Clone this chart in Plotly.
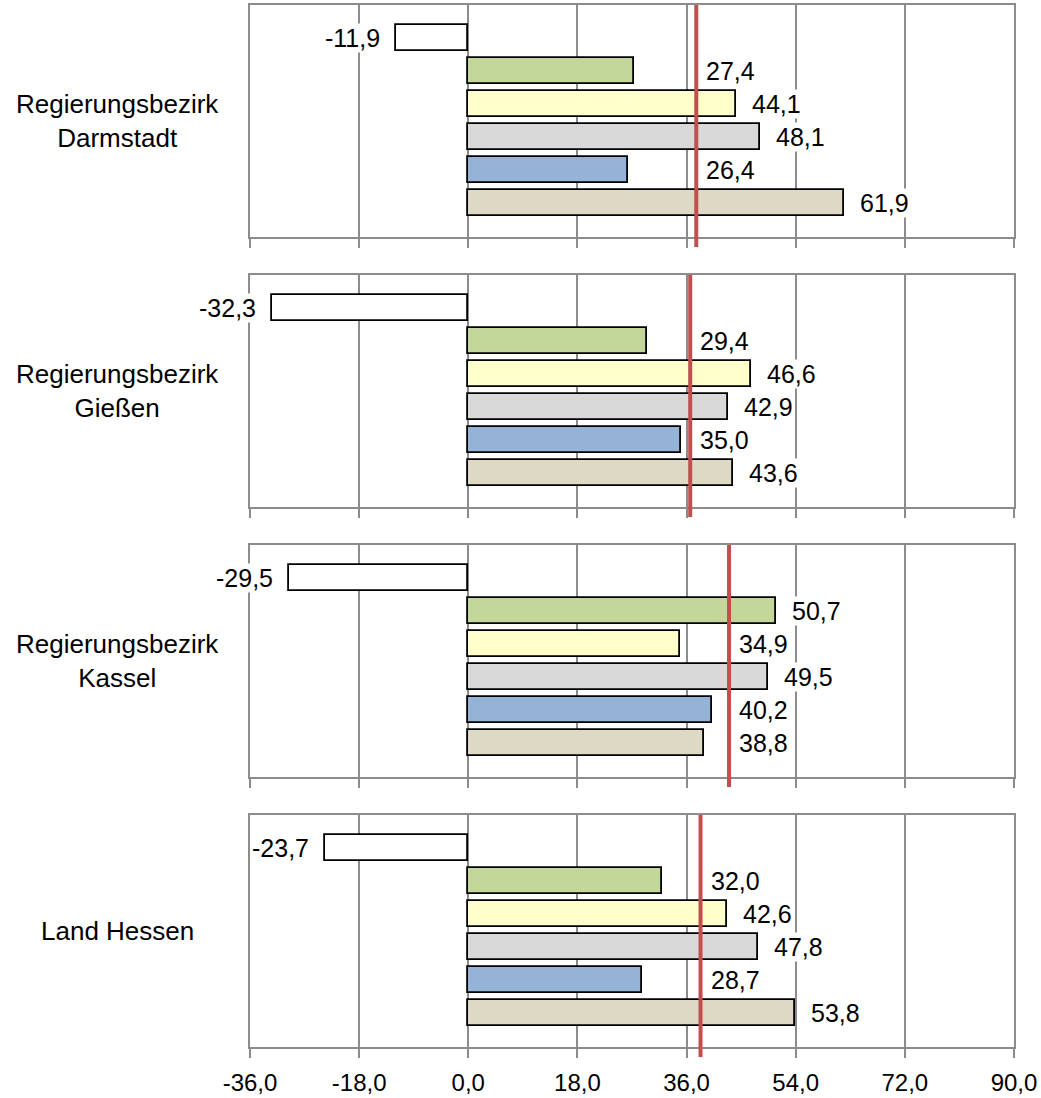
import plotly.graph_objects as go
from plotly.subplots import make_subplots

# ---- data ----
regions = ["Regierungsbezirk<br>Darmstadt", "Regierungsbezirk<br>Gießen",
           "Regierungsbezirk<br>Kassel", "Land Hessen"]
darmstadt = [-11.9, 27.4, 44.1, 48.1, 26.4, 61.9]
giessen = [-32.3, 29.4, 46.6, 42.9, 35.0, 43.6]
kassel = [-29.5, 50.7, 34.9, 49.5, 40.2, 38.8]
hessen = [-23.7, 32.0, 42.6, 47.8, 28.7, 53.8]
reference_values = [37.6, 36.6, 43.0, 38.3]   # red vertical lines
bar_colors = ["#FFFFFF", "#C4D79B", "#FFFFCC", "#D9D9D9", "#95B3D7", "#DDD9C4"]
x_ticks = [-36, -18, 0, 18, 36, 54, 72, 90]
x_ticktext = [f"{t:.1f}".replace(".", ",") for t in x_ticks]

panels = [darmstadt, giessen, kassel, hessen]

W, H = 1041, 1098
ML, MR, MT, MB = 250, 27, 5, 51
plot_w = W - ML - MR
plot_h = H - MT - MB
px_per_unit = plot_w / (x_ticks[-1] - x_ticks[0])

# panel pixel extents (top, bottom) measured from figure top
panel_px = [(5, 237), (275, 507), (545, 777), (815, 1047)]

fig = make_subplots(rows=4, cols=1)

GRID = "#8C8C8C"
FONT = "Liberation Sans, Arial, sans-serif"

annotations = []
shapes = []
for i, vals in enumerate(panels):
    r = i + 1
    n = len(vals)
    ypos = list(range(n))
    fig.add_trace(go.Bar(
        x=vals, y=ypos, orientation="h", width=0.79,
        marker=dict(color=bar_colors, line=dict(color="#000000", width=1.8)),
        showlegend=False, hoverinfo="skip"), row=r, col=1)

    top, bot = panel_px[i]
    d0 = (H - MB - bot) / plot_h
    d1 = (H - MB - top) / plot_h
    ya = "yaxis" if r == 1 else f"yaxis{r}"
    fig.layout[ya].domain = [d0, d1]
    slots = (bot - top) / 33.0
    fig.update_yaxes(range=[slots - 1, -1], showticklabels=False, showgrid=False,
                     zeroline=False, showline=True, linecolor=GRID, linewidth=2,
                     mirror=True, ticks="", automargin=False, row=r, col=1)
    fig.update_xaxes(range=[x_ticks[0], x_ticks[-1]], tickvals=x_ticks,
                     ticktext=x_ticktext, showgrid=True, gridcolor=GRID, gridwidth=1.5,
                     zeroline=False, showline=True, linecolor=GRID, linewidth=2,
                     mirror=True, ticks="outside", ticklen=9, tickcolor=GRID,
                     tickwidth=2, showticklabels=(r == 4), ticklabelstandoff=4,
                     automargin=False,
                     tickfont=dict(family=FONT, size=24, color="#000000"),
                     row=r, col=1)

    xref = "x" if r == 1 else f"x{r}"
    yref = "y" if r == 1 else f"y{r}"
    red = reference_values[i]
    shapes.append(dict(type="line", xref=xref, yref=yref + " domain",
                       x0=red, x1=red, y0=-10 / (bot - top), y1=1,
                       line=dict(color="#C0504D", width=4), layer="above"))

    for k, v in enumerate(vals):
        txt = f"{v:.1f}".replace(".", ",")
        if v < 0:
            ax = v - 15 / px_per_unit
            anchor = "right"
        else:
            ax = max(v + 15 / px_per_unit, red + 9 / px_per_unit)
            anchor = "left"
        annotations.append(dict(x=ax, y=k, xref=xref, yref=yref, text=txt,
                                showarrow=False, xanchor=anchor, yanchor="middle",
                                bgcolor="#FFFFFF", borderpad=0,
                                font=dict(family=FONT, size=25, color="#000000")))

    annotations.append(dict(x=(117 - ML) / plot_w, y=(d0 + d1) / 2, xref="paper",
                            yref="paper", text=regions[i], showarrow=False,
                            xanchor="center", yanchor="middle", align="center",
                            font=dict(family=FONT, size=26, color="#000000")))

fig.update_layout(
    width=W, height=H,
    margin=dict(l=ML, r=MR, t=MT, b=MB),
    paper_bgcolor="#FFFFFF", plot_bgcolor="#FFFFFF",
    separators=",.",
    annotations=annotations, shapes=shapes,
    bargap=0, font=dict(family=FONT, color="#000000"),
)

fig.write_html("out.html", config={"displayModeBar": False},
               post_script="document.body.style.margin='0px';document.body.style.padding='0px';")
